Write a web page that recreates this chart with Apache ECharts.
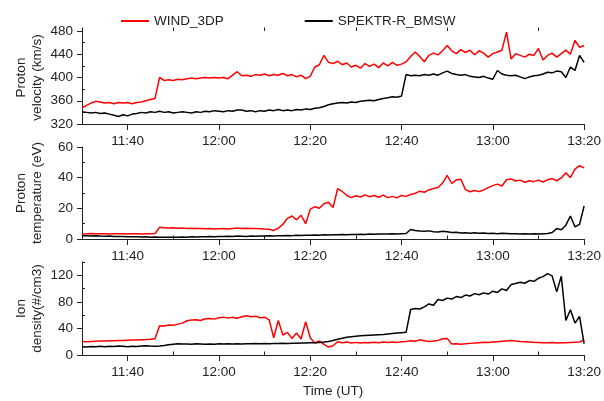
<meta charset="utf-8">
<script src="https://cdn.jsdelivr.net/npm/echarts@6.0.0/dist/echarts.min.js"></script>
<style>html,body{margin:0;padding:0;background:#fff}</style>
<body>
<div id="main" style="width:604px;height:401px"></div>
<script>
// minutes after 11:30 UT
var timeMin = [
 0,1,2,3,4,5,6,7,8,9,10,11,12,13,14,15,16,17,18,19,
 20,21,22,23,24,25,26,27,28,29,30,31,32,33,34,35,36,37,38,39,
 40,41,42,43,44,45,46,47,48,49,50,51,52,53,54,55,56,57,58,59,
 60,61,62,63,64,65,66,67,68,69,70,71,72,73,74,75,76,77,78,79,
 80,81,82,83,84,85,86,87,88,89,90,91,92,93,94,95,96,97,98,99,
 100,101,102,103,104,105,106,107,108,109,110
];

var xLabelVals = [10,30,50,70,90,110];
var xLabelText = ['11:40','12:00','12:20','12:40','13:00','13:20'];
var xMinorVals = [0,20,40,60,80,100];

var velTicks = [320,360,400,440,480],  velMinor = [340,380,420,460];
var tempTicks = [0,20,40,60],           tempMinor = [10,30,50];
var densTicks = [0,40,80,120],          densMinor = [20,60,100,140];

// WIND_3DP
var windVel = [
 348,352,356,359,358,356,357,355,357,356,
 357,355,357,358,360,362,364,400,395,396,
 395,397,396,398,399,398,399,400,399,400,
 399,400,398,404,410,403,404,402,405,404,
 406,403,405,404,407,403,405,401,404,398,
 402,418,422,438,426,424,428,422,425,418,
 421,416,424,419,423,417,425,420,426,421,
 423,427,436,444,436,427,438,442,439,446,
 455,446,441,448,443,447,439,446,442,435,
 441,444,447,478,432,441,438,435,440,438,
 450,430,438,442,435,441,447,440,464,452,455
];
var windTemp = [
 3.3,3.4,3.6,3.5,3.4,3.5,3.3,3.4,3.5,3.4,
 3.3,3.5,3.4,3.3,3.5,3.4,3.6,7.6,7.4,7.2,
 7.3,7.0,7.1,6.9,7.0,6.8,6.9,6.7,6.8,6.6,
 6.7,6.8,6.6,6.9,7.1,6.8,7.0,6.8,6.9,6.7,
 6.5,6.4,5.6,7.0,9.5,13.5,15.0,12.5,15.5,10.0,
 19.5,21.0,20.0,23.0,24.0,20.5,32.8,31.0,28.5,27.0,
 28.2,27.4,28.8,27.6,28.4,27.2,28.6,27.0,27.8,26.8,
 28.4,27.8,29.0,29.8,31.2,30.5,32.0,33.0,33.6,36.5,
 41.5,36.2,38.5,39.0,32.2,30.8,31.6,30.9,32.0,33.5,
 34.8,35.8,34.6,38.6,39.2,37.8,38.4,37.0,38.0,37.4,
 38.4,37.2,38.6,39.4,38.0,39.8,43.2,40.0,45.6,47.8,46.4
];
var windDens = [
 20.2,20.0,20.5,20.8,21.0,20.9,21.3,21.5,21.8,22.0,
 22.2,22.4,22.6,23.0,23.2,23.6,24.5,44.0,43.5,45.0,
 44.6,46.5,48.0,51.5,52.8,53.2,52.0,54.5,55.0,54.0,
 56.2,57.0,55.5,56.8,55.2,57.5,59.0,57.5,58.5,56.0,
 57.0,53.0,26.0,52.0,30.0,34.0,25.0,33.0,24.0,50.0,
 26.0,18.0,21.0,16.0,12.0,14.0,20.0,18.5,19.5,18.2,
 19.0,18.0,18.8,18.4,19.2,18.6,19.4,18.8,19.6,19.0,
 19.8,20.5,21.5,20.6,22.8,21.4,20.2,21.0,22.0,24.5,
 25.0,16.5,17.0,16.2,16.8,17.5,18.0,18.6,19.2,18.8,
 19.4,20.0,20.6,21.2,21.8,21.0,20.4,20.0,19.6,19.2,
 19.0,18.6,18.4,18.8,18.2,18.6,18.4,18.8,19.2,19.6,22.5
];

// SPEKTR-R_BMSW
var spektrVel = [
 341,340,339,340,338,339,337,335,333,336,
 334,337,338,340,339,341,340,342,340,341,
 339,340,341,340,339,341,340,342,341,343,
 342,341,343,342,344,344,342,343,341,343,
 342,344,343,345,343,344,343,345,344,346,
 345,347,348,350,353,355,356,357,356,358,
 357,359,360,361,360,362,364,365,367,366,
 368,405,403,404,403,405,404,406,404,408,
 411,407,405,404,405,402,401,400,402,399,
 397,412,406,404,403,404,401,398,401,403,
 404,406,409,408,411,410,400,418,412,438,426
];
var spektrTemp = [
 2.2,2.1,2.0,2.1,1.9,1.8,1.9,1.7,1.6,1.7,
 1.5,1.4,1.5,1.3,1.4,1.2,1.3,1.2,1.1,1.2,
 1.1,1.2,1.3,1.2,1.4,1.3,1.5,1.4,1.6,1.5,
 1.7,1.6,1.8,1.7,1.9,1.8,1.7,1.9,1.8,2.0,
 1.9,2.1,2.0,2.2,2.1,2.3,2.2,2.4,2.3,2.5,
 2.4,2.6,2.5,2.7,2.6,2.8,2.7,2.9,2.8,3.0,
 2.9,3.1,3.0,3.2,3.1,3.2,3.3,3.2,3.4,3.3,
 3.5,3.6,6.2,5.6,5.2,5.0,5.3,4.8,4.6,5.0,
 4.8,4.2,4.4,3.9,4.1,3.8,4.0,3.7,3.9,3.6,
 3.8,3.5,3.7,3.6,3.4,3.5,3.3,3.4,3.2,3.4,
 3.3,3.5,3.6,4.2,6.8,6.0,9.0,15.0,8.0,9.5,21.5
];
var spektrDens = [
 12.5,12.0,12.8,12.4,13.0,12.6,13.2,12.8,13.4,13.0,
 12.6,13.2,12.8,13.6,14.0,13.4,13.0,13.6,14.4,15.5,
 16.2,16.8,16.4,16.6,16.2,16.8,16.4,16.0,16.6,16.2,
 16.8,16.5,16.9,16.6,17.0,16.7,17.1,16.8,17.2,16.9,
 17.3,17.0,17.4,17.2,17.6,17.4,17.8,17.6,18.0,18.2,
 18.6,18.4,19.0,19.6,20.4,21.8,23.6,25.2,26.8,27.6,
 28.2,28.8,29.2,29.6,30.0,30.4,30.8,31.6,32.4,33.0,
 33.6,34.2,68.5,70.0,69.2,72.5,76.8,75.0,83.5,82.0,
 85.6,84.2,88.0,86.5,90.2,88.8,92.4,90.6,93.5,91.8,
 96.0,94.2,99.5,97.0,106.0,107.5,109.5,108.0,112.0,111.0,
 115.5,118.0,122.5,119.0,95.0,118.5,52.0,68.0,48.0,58.0,17.0
];

var txt = '#222';
var font = 'Liberation Sans, Arial, sans-serif';

var pair = function(vals){
	var out = [], i;
	for(i=0;i<timeMin.length;++i) out.push([timeMin[i], vals[i]]);
	return out;
};

var grids = [
	{ left: 82, right: 17, top: 31, height: 93 },
	{ left: 82, right: 17, top: 147, height: 92 },
	{ left: 82, right: 17, top: 262, height: 93 }
];

var mainX = function(gi){
	var ax = {
		type: 'value', gridIndex: gi, min: 0, max: 110,
		axisLine: { show: true, lineStyle: { color: txt, width: 1 } },
		axisTick: { show: true, length: 6, customValues: xLabelVals, lineStyle: { color: txt } },
		axisLabel: {
			customValues: xLabelVals, margin: 10, color: txt, fontSize: 13.5, fontFamily: font,
			formatter: function(v){ return xLabelText[xLabelVals.indexOf(v)] || ''; }
		},
		splitLine: { show: false }
	};
	if( gi == 2 ){
		ax.name = 'Time (UT)'; ax.nameLocation = 'middle'; ax.nameGap = 29;
		ax.nameMoveOverlap = false;
		ax.nameTextStyle = { color: txt, fontSize: 13.5, fontFamily: font };
	}
	return ax;
};
var minorX = function(gi){
	return {
		type: 'value', gridIndex: gi, min: 0, max: 110,
		axisLine: { show: false },
		axisTick: { show: true, length: 3.5, customValues: xMinorVals, lineStyle: { color: txt } },
		axisLabel: { show: false },
		splitLine: { show: false }
	};
};
var mainY = function(gi, mn, mx, ticks, name){
	return {
		type: 'value', gridIndex: gi, min: mn, max: mx,
		name: name, nameLocation: 'middle', nameRotate: 90, nameGap: 37, nameMoveOverlap: false,
		nameTextStyle: { color: txt, fontSize: 13.5, fontFamily: font, lineHeight: 16 },
		axisLine: { show: true, lineStyle: { color: txt, width: 1 } },
		axisTick: { show: true, length: 5, customValues: ticks, lineStyle: { color: txt } },
		axisLabel: { customValues: ticks, margin: 9, color: txt, fontSize: 13.5, fontFamily: font },
		splitLine: { show: false }
	};
};
var minorY = function(gi, mn, mx, ticks){
	return {
		type: 'value', gridIndex: gi, min: mn, max: mx,
		axisLine: { show: false },
		axisTick: { show: true, length: 3, customValues: ticks, lineStyle: { color: txt } },
		axisLabel: { show: false },
		splitLine: { show: false }
	};
};

var line = function(name, color, gi, vals){
	return {
		name: name, type: 'line', xAxisIndex: gi, yAxisIndex: gi,
		data: pair(vals), showSymbol: false, symbol: 'none',
		lineStyle: { color: color, width: 1.5 }, itemStyle: { color: color }
	};
};

var option = {
	animation: false,
	backgroundColor: '#fff',
	legend: {
		left: 116, top: 9, itemGap: 81, itemWidth: 28, itemHeight: 2, icon: 'rect',
		textStyle: { color: txt, fontSize: 13.5, fontFamily: font },
		data: ['WIND_3DP', 'SPEKTR-R_BMSW']
	},
	grid: grids,
	xAxis: [ mainX(0), mainX(1), mainX(2), minorX(0), minorX(1), minorX(2) ],
	yAxis: [
		mainY(0, 320, 480, velTicks, 'Proton\nvelocity (km/s)'),
		mainY(1, 0, 60, tempTicks, 'Proton\ntemperature (eV)'),
		mainY(2, 0, 140, densTicks, 'Ion\ndensity(#/cm3)'),
		minorY(0, 320, 480, velMinor),
		minorY(1, 0, 60, tempMinor),
		minorY(2, 0, 140, densMinor)
	],
	series: [
		line('WIND_3DP', '#ff0000', 0, windVel),
		line('SPEKTR-R_BMSW', '#000000', 0, spektrVel),
		line('WIND_3DP', '#ff0000', 1, windTemp),
		line('SPEKTR-R_BMSW', '#000000', 1, spektrTemp),
		line('WIND_3DP', '#ff0000', 2, windDens),
		line('SPEKTR-R_BMSW', '#000000', 2, spektrDens)
	]
};

var chart = echarts.init(document.getElementById('main'), null, { renderer: 'canvas' });
chart.setOption(option);
</script>
</body>
